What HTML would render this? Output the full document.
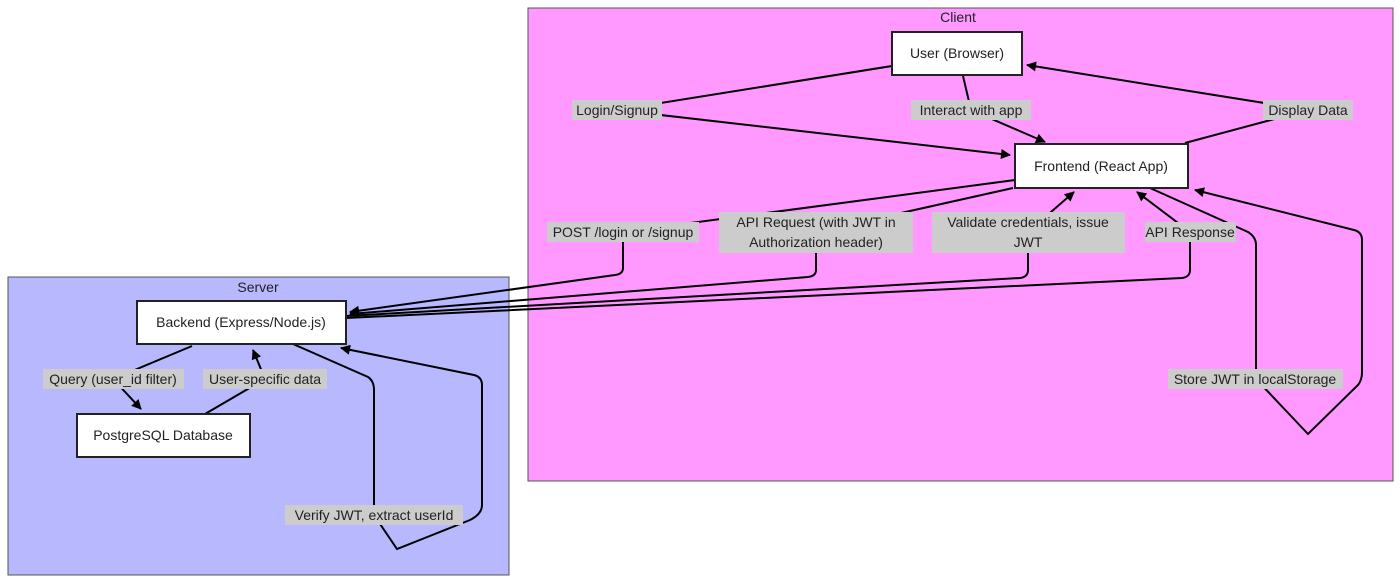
<!DOCTYPE html>
<html><head><style>
html,body{margin:0;padding:0;background:#fff;}
svg{display:block;}
text{font-family:"Liberation Sans",sans-serif;font-size:14px;fill:#222;}
.e{fill:none;stroke:#000;stroke-width:2;}
.lb{fill:#cccccc;}
</style></head><body>
<svg width="1400" height="584" viewBox="0 0 1400 584" xmlns="http://www.w3.org/2000/svg">
<defs>
<marker id="a" viewBox="0 0 10 10" refX="9" refY="5" markerWidth="11" markerHeight="10" orient="auto-start-reverse" markerUnits="userSpaceOnUse">
<path d="M0,0 L10,5 L0,10 z" fill="#000"/></marker>
</defs>
<rect x="528" y="8" width="865" height="473" fill="#ff99ff" stroke="#555" stroke-width="1"/>
<text x="958" y="22" text-anchor="middle">Client</text>
<rect x="8" y="277" width="501" height="298" fill="#b8b8ff" stroke="#555" stroke-width="1"/>
<text x="258" y="292" text-anchor="middle">Server</text>

<path class="e" d="M892,66 L617,110 L1010,155" marker-end="url(#a)"/>
<path class="e" d="M963,76 L971,110 L1045,142" marker-end="url(#a)"/>
<path class="e" d="M1185,143 L1308,110 L1027,65" marker-end="url(#a)"/>
<path class="e" d="M1015,180 L623,232 L623,268 Q623,274 615,275 L350,312" marker-end="url(#a)"/>
<path class="e" d="M1013,188 L816,232 L816,270 Q816,276 808,277 L350,314" marker-end="url(#a)"/>
<path class="e" d="M346,316 L1020,278 Q1028,277 1028,270 L1028,232 L1074,192" marker-end="url(#a)"/>
<path class="e" d="M346,318 L1182,278 Q1190,277 1190,270 L1190,232 L1137,192" marker-end="url(#a)"/>
<path class="e" d="M1150,188 L1248,232 Q1256,237 1256,245 L1256,379 L1308,434 L1358,385 Q1362,380 1362,372 L1362,240 Q1362,232 1354,230 L1195,190" marker-end="url(#a)"/>
<path class="e" d="M293,344 L368,377 Q374,381 374,390 L374,515 L397,549 L470,520 Q482,514 482,505 L482,385 Q482,377 474,375 L341,348" marker-end="url(#a)"/>
<path class="e" d="M192,346 L113,379 L141,409" marker-end="url(#a)"/>
<path class="e" d="M205,414 L265,379 L253,350" marker-end="url(#a)"/>

<rect class="lb" x="572" y="100" width="90" height="20"/><text x="617" y="115" text-anchor="middle">Login/Signup</text>
<rect class="lb" x="911" y="100" width="120" height="20"/><text x="971" y="115" text-anchor="middle">Interact with app</text>
<rect class="lb" x="1263" y="100" width="90" height="20"/><text x="1308" y="115" text-anchor="middle">Display Data</text>
<rect class="lb" x="547" y="222" width="152" height="20"/><text x="623" y="237" text-anchor="middle">POST /login or /signup</text>
<rect class="lb" x="719" y="212" width="194" height="41"/><text x="816" y="227" text-anchor="middle">API Request (with JWT in</text><text x="816" y="247" text-anchor="middle">Authorization header)</text>
<rect class="lb" x="932" y="212" width="193" height="41"/><text x="1028" y="227" text-anchor="middle">Validate credentials, issue</text><text x="1028" y="247" text-anchor="middle">JWT</text>
<rect class="lb" x="1145" y="222" width="91" height="20"/><text x="1190" y="237" text-anchor="middle">API Response</text>
<rect class="lb" x="1168" y="369" width="175" height="20"/><text x="1255" y="384" text-anchor="middle">Store JWT in localStorage</text>
<rect class="lb" x="43" y="369" width="141" height="20"/><text x="113" y="384" text-anchor="middle">Query (user_id filter)</text>
<rect class="lb" x="203" y="369" width="124" height="20"/><text x="265" y="384" text-anchor="middle">User-specific data</text>
<rect class="lb" x="285" y="505" width="178" height="20"/><text x="374" y="520" text-anchor="middle">Verify JWT, extract userId</text>

<rect x="892" y="32" width="130" height="43" fill="#fff" stroke="#222" stroke-width="2"/>
<text x="957" y="58" text-anchor="middle">User (Browser)</text>
<rect x="1015" y="144" width="173" height="44" fill="#fff" stroke="#222" stroke-width="2"/>
<text x="1101" y="171" text-anchor="middle">Frontend (React App)</text>
<rect x="137" y="301" width="209" height="43" fill="#fff" stroke="#222" stroke-width="2"/>
<text x="241" y="327" text-anchor="middle">Backend (Express/Node.js)</text>
<rect x="77" y="414" width="173" height="43" fill="#fff" stroke="#222" stroke-width="2"/>
<text x="163" y="440" text-anchor="middle">PostgreSQL Database</text>
</svg>
</body></html>
